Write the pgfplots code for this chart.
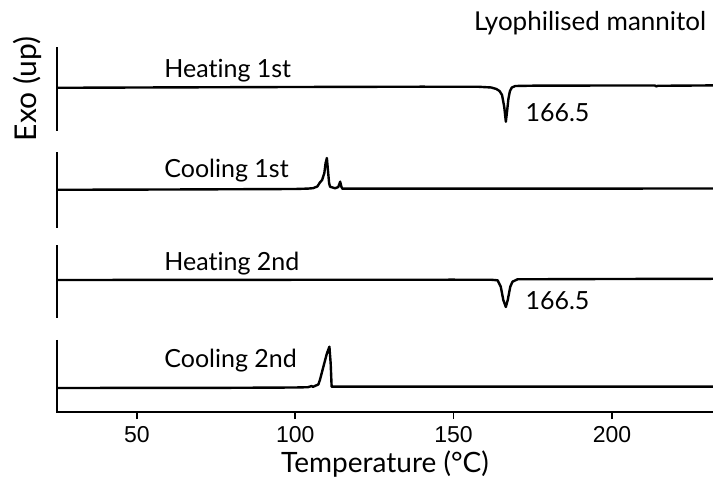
\documentclass[border=0pt]{standalone}
\usepackage{fontspec}
\setmainfont{Lato}[Ligatures=NoCommon]
\newfontfamily\tickfont{Liberation Sans}
\usepackage{pgfplots}
\pgfplotsset{compat=1.18}
\usepackage{pgfplotstable}

% DSC traces: temperature (degC) and heat flow offset from each baseline (exo up)
\pgfplotstableread{
T y
24.8 -0.8
60 -0.4
100 0
140 0.3
158 0.2
161.9 -0.5
163.5 -2
164.5 -4
165.3 -8
166.0 -20
166.5 -34.7
166.9 -24
167.3 -12
167.8 -4
168.4 -0.5
169.5 1
175 1.3
200 1.5
213.5 1.5
214.0 0.6
214.5 1.2
231.9 1.6
}\heatA

\pgfplotstableread{
T y
24.8 -0.8
60 -0.5
100 0
104 0.4
105.6 0.8
107 2.5
107.8 6.5
108.5 9
109.2 16
109.6 26
110.0 31
110.3 20
110.7 6
111.0 2.3
112.6 0.7
113.6 2
114.2 7.3
114.6 2
114.9 0.3
150 0.3
231.9 0.5
}\coolA

\pgfplotstableread{
T y
24.8 0
100 0.2
150 0.3
162 0.2
163.9 -0.3
164.9 -6.7
165.7 -20
166.5 -27
167.1 -20
167.9 -6.7
168.6 -1.7
170.2 0.7
200 1
231.9 1.2
}\heatB

\pgfplotstableread{
T y
24.8 -0.5
80 -0.3
100 0
104 0.3
105.2 1.5
105.6 0.6
106.4 1.8
107.3 3
107.8 7.5
108.9 20.8
110.0 34
110.8 40.8
111.2 24
111.5 0.8
130 0.8
231.9 0.8
}\coolB

\newcommand\labfont{\fontsize{25}{25}\selectfont}

\pgfplotsset{
  dscpanel/.style={
    scale only axis, width=656pt,
    xmin=24.8, xmax=231.9,
    axis line style={-, line width=2.2pt, black},
    clip=false, anchor=south west,
  },
  trace/.style={black, line width=2.4pt, line join=round, mark=none},
}

\begin{document}
\begin{tikzpicture}
\useasboundingbox (-57pt,-481pt) rectangle (656pt,0pt);

% Heating 1st
\begin{axis}[dscpanel, axis y line*=left, axis x line=none, ytick=\empty,
  at={(0pt,-131pt)}, height=84pt, ymin=-44, ymax=40,
  ylabel={Exo (up)},
  ylabel style={font=\fontsize{30}{30}\selectfont, at={(axis description cs:-0.0457,0.5)}, anchor=center}]
  \addplot[trace] table[x=T, y=y] {\heatA};
  \node[anchor=base west, font=\labfont] at (axis cs:57.6,9) {Heating 1st};
  \node[anchor=base west, font=\labfont] at (axis cs:171.6,-35) {166.5};
  \node[anchor=base east, font=\fontsize{26}{26}\selectfont] at (axis cs:230.9,56) {Lyophilised mannitol};
\end{axis}

% Cooling 1st
\begin{axis}[dscpanel, axis y line*=left, axis x line=none, ytick=\empty,
  at={(0pt,-228pt)}, height=76pt, ymin=-39, ymax=37]
  \addplot[trace] table[x=T, y=y] {\coolA};
  \node[anchor=base west, font=\labfont] at (axis cs:57.6,11) {Cooling 1st};
\end{axis}

% Heating 2nd
\begin{axis}[dscpanel, axis y line*=left, axis x line=none, ytick=\empty,
  at={(0pt,-318pt)}, height=73pt, ymin=-38, ymax=35]
  \addplot[trace] table[x=T, y=y] {\heatB};
  \node[anchor=base west, font=\labfont] at (axis cs:57.6,9) {Heating 2nd};
  \node[anchor=base west, font=\labfont] at (axis cs:171.6,-30) {166.5};
\end{axis}

% Cooling 2nd, with the temperature axis drawn as a box edge
\begin{axis}[dscpanel,
  separate axis lines,
  x axis line style={draw=none},
  y axis line style={draw=none},
  at={(0pt,-412pt)}, height=72pt, ymin=-24.5, ymax=47.5,
  ytick=\empty,
  xtick={50,100,150,200},
  xtick pos=left,
  tick align=outside,
  major tick length=7pt,
  tick style={draw=black, line width=1.8pt},
  /pgf/number format/assume math mode=true,
  xticklabel style={font=\tickfont\fontsize{23}{23}\selectfont, yshift=-4pt},
  xlabel={Temperature (°C)},
  xlabel style={font=\fontsize{28}{28}\selectfont, yshift=-1pt}]
  \addplot[trace] table[x=T, y=y] {\coolB};
  % left spine and bottom axis of this panel
  \draw[black, line width=2.2pt] (rel axis cs:0,1) -- (rel axis cs:0,0) -- (rel axis cs:1,0);
  \node[anchor=base west, font=\labfont] at (axis cs:57.6,19.5) {Cooling 2nd};
\end{axis}
\end{tikzpicture}
\end{document}
